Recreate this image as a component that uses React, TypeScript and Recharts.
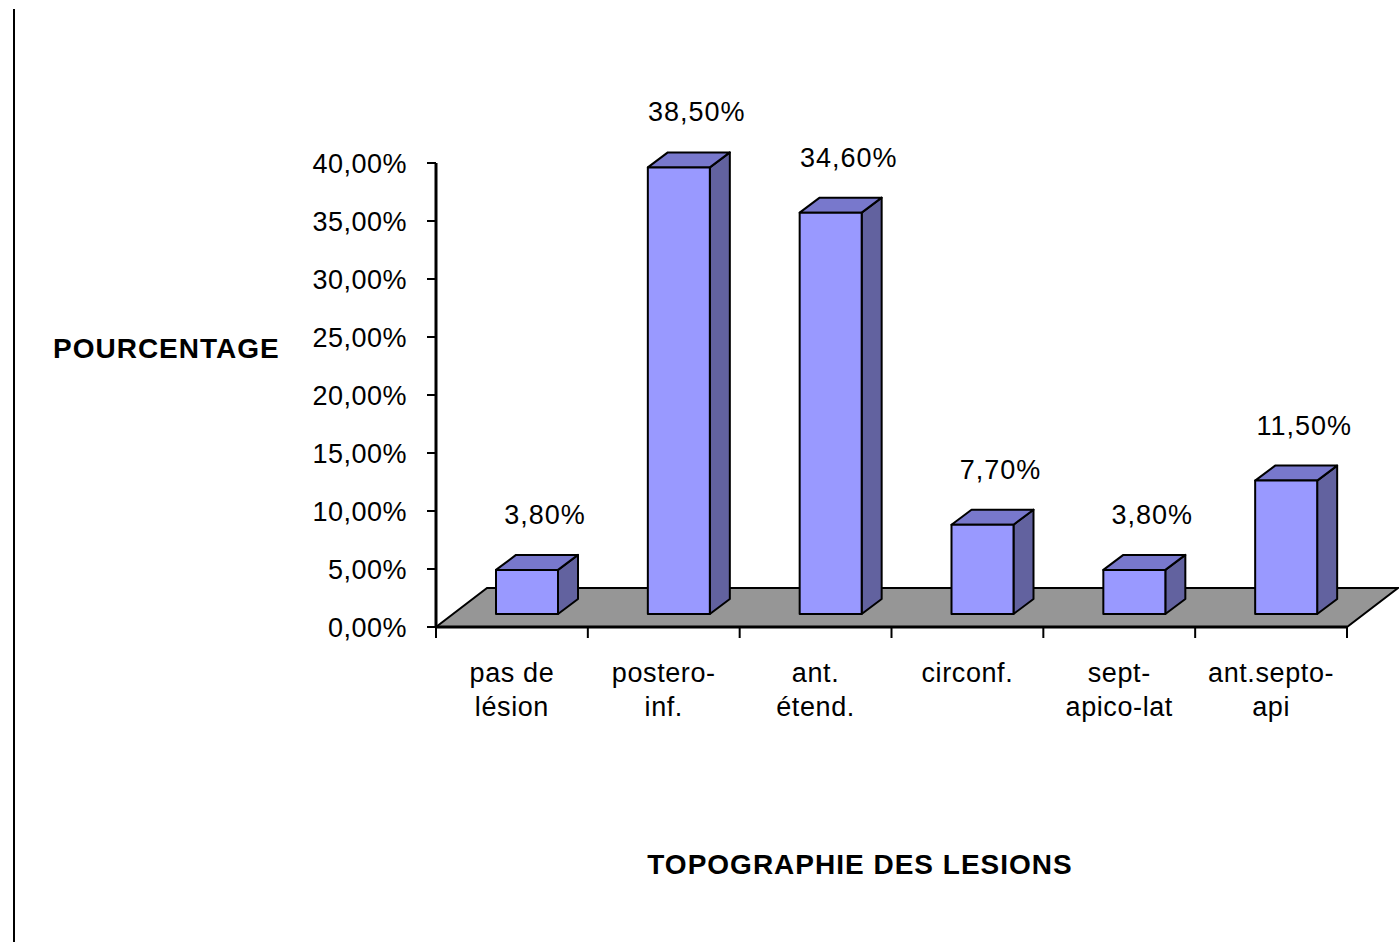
import React from "react";
import {
  BarChart,
  Bar,
  XAxis,
  YAxis,
  ReferenceArea,
  LabelList,
} from "recharts";

const categories = [
  "pas de\nlésion",
  "postero-\ninf.",
  "ant.\nétend.",
  "circonf.",
  "sept-\napico-lat",
  "ant.septo-\napi",
];
const percentages = [3.8, 38.5, 34.6, 7.7, 3.8, 11.5];
const yTicks = [0, 5, 10, 15, 20, 25, 30, 35, 40];

const chartData = categories.map((name, i) => ({ name, value: percentages[i] }));

const FONT = "'Liberation Sans', Arial, sans-serif";
const W = 1399;
const H = 942;
const MARGIN = { top: 163, right: 52, bottom: 215, left: 0 };
const Y_AXIS_W = 436;
const X_AXIS_H = 100;
const PLOT_W = W - MARGIN.left - MARGIN.right - Y_AXIS_W;
const BAND = PLOT_W / categories.length;

// 3d look: floor depth, bar offset on the floor, bar depth
const FLOOR_DX = 51;
const FLOOR_DY = 39;
const BAR_SHIFT_X = 15;
const BAR_SHIFT_Y = 13;
const BOX_DX = 20;
const BOX_DY = 15;

const fmtPct = (v: number) => v.toFixed(2).replace(".", ",") + "%";

function Floor(props: any) {
  const { x, y, width, height } = props;
  const b = y + height;
  const pts = [
    [x, b],
    [x + FLOOR_DX, b - FLOOR_DY],
    [x + width + FLOOR_DX, b - FLOOR_DY],
    [x + width, b],
  ]
    .map((p) => p.join(","))
    .join(" ");
  return <polygon points={pts} fill="#969696" stroke="#000" strokeWidth={2} />;
}

function Box3D(props: any) {
  const { x, y, width, height } = props;
  if (height == null || width == null) return null;
  const fx = x + BAR_SHIFT_X;
  const fy = y - BAR_SHIFT_Y;
  const r = fx + width;
  const bt = fy + height;
  const top = `${fx},${fy} ${fx + BOX_DX},${fy - BOX_DY} ${r + BOX_DX},${fy - BOX_DY} ${r},${fy}`;
  const side = `${r},${fy} ${r + BOX_DX},${fy - BOX_DY} ${r + BOX_DX},${bt - BOX_DY} ${r},${bt}`;
  return (
    <g stroke="#000" strokeWidth={2} strokeLinejoin="round">
      <polygon points={side} fill="#62629f" />
      <polygon points={top} fill="#7878cc" />
      <rect x={fx} y={fy} width={width} height={height} fill="#9999ff" />
    </g>
  );
}

function ValueLabel(props: any) {
  const { x, y, width, value } = props;
  return (
    <text
      x={x + width / 2 + 33}
      y={y - 68}
      textAnchor="middle"
      dominantBaseline="central"
      fontSize={27}
      letterSpacing={1}
      fontFamily={FONT}
      fill="#000"
    >
      {fmtPct(Number(value))}
    </text>
  );
}

function CategoryTick(props: any) {
  const { x, y, payload, index } = props;
  const lines = String(payload.value).split("\n");
  const left = x - BAND / 2;
  return (
    <g>
      <line x1={left} y1={y} x2={left} y2={y + 11} stroke="#000" strokeWidth={2} />
      {index === categories.length - 1 && (
        <line x1={x + BAND / 2} y1={y} x2={x + BAND / 2} y2={y + 11} stroke="#000" strokeWidth={2} />
      )}
      {lines.map((ln, i) => (
        <text
          key={i}
          x={x}
          y={y + 55 + i * 34}
          textAnchor="middle"
          fontSize={27}
          letterSpacing={0.6}
          fontFamily={FONT}
          fill="#000"
        >
          {ln}
        </text>
      ))}
    </g>
  );
}

export default function App() {
  return (
    <div
      style={{
        position: "absolute",
        left: 0,
        top: 0,
        width: W,
        height: H,
        background: "#fff",
        fontFamily: FONT,
      }}
    >
      <div
        style={{
          position: "absolute",
          left: 13,
          top: 9,
          width: 2,
          height: H - 9,
          background: "#000",
        }}
      />
      <div
        style={{
          position: "absolute",
          left: 53,
          top: 332,
          fontSize: 28,
          fontWeight: "bold",
          letterSpacing: 1,
          lineHeight: "34px",
        }}
      >
        POURCENTAGE
      </div>
      <div
        style={{
          position: "absolute",
          left: 560,
          width: 600,
          textAlign: "center",
          top: 848,
          fontSize: 28,
          fontWeight: "bold",
          letterSpacing: 1,
          lineHeight: "34px",
        }}
      >
        TOPOGRAPHIE DES LESIONS
      </div>
      <BarChart
        width={W}
        height={H}
        data={chartData}
        margin={MARGIN}
        barCategoryGap={0}
        style={{ position: "absolute", left: 0, top: 0 }}
      >
        <XAxis
          dataKey="name"
          height={X_AXIS_H}
          interval={0}
          tickSize={0}
          tickMargin={0}
          axisLine={{ stroke: "#000", strokeWidth: 3 }}
          tickLine={false}
          tick={<CategoryTick />}
        />
        <YAxis
          width={Y_AXIS_W}
          domain={[0, 40]}
          ticks={yTicks}
          interval={0}
          tickSize={9}
          tickMargin={20}
          tickFormatter={(v: number) => fmtPct(v)}
          axisLine={{ stroke: "#000", strokeWidth: 3 }}
          tickLine={{ stroke: "#000", strokeWidth: 2 }}
          tick={{ fill: "#000", fontSize: 27, fontFamily: FONT, letterSpacing: 0.5 }}
        />
        <ReferenceArea y1={0} y2={40} ifOverflow="visible" shape={<Floor />} />
        <Bar dataKey="value" barSize={62} shape={<Box3D />} isAnimationActive={false}>
          <LabelList dataKey="value" content={<ValueLabel />} />
        </Bar>
      </BarChart>
    </div>
  );
}
